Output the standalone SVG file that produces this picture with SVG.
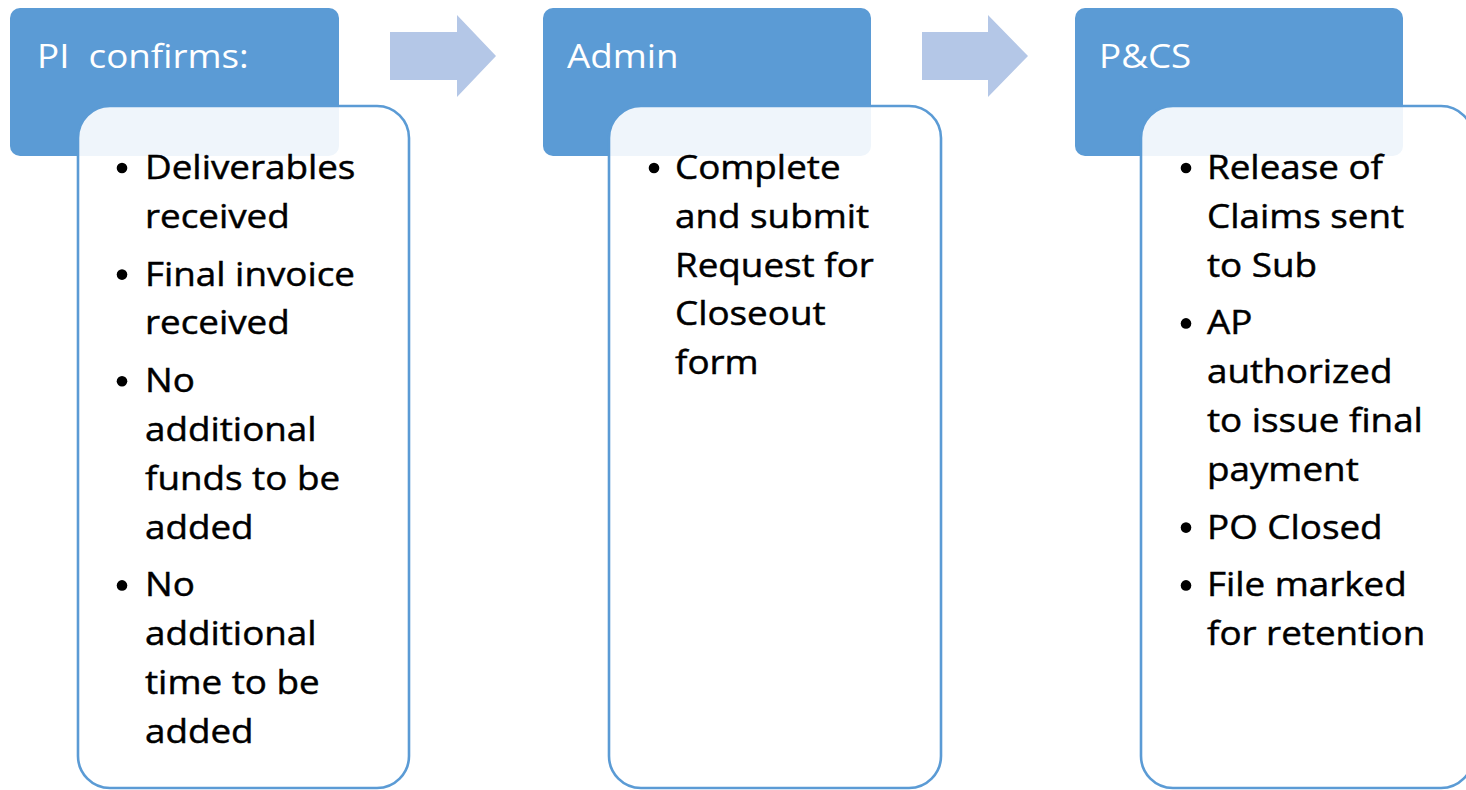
<svg xmlns="http://www.w3.org/2000/svg" width="1466" height="790" viewBox="0 0 1466 790">
<style>
.hdr{fill:#5B9BD5}
.card{fill:#FFFFFF;fill-opacity:0.9;stroke:#5B9BD5;stroke-width:2.6}
.arrow{fill:#B4C7E7}
.ht{font-family:"Open Sans","Noto Sans",sans-serif;font-size:32px;fill:#FFFFFF}
.bt{font-family:"Open Sans","Noto Sans",sans-serif;font-size:32px;fill:#000000;stroke:#000000;stroke-width:0.45}
.dot{fill:#000000}
</style>
<rect width="1466" height="790" fill="#FFFFFF"/>
<g id="connectors">
<polygon class="arrow" points="390,32 457,32 457,15 496,56 457,97 457,80 390,80"/>
<polygon class="arrow" points="922,32 988,32 988,15 1028,56 988,97 988,80 922,80"/>
</g>
<g id="node-pi">
<rect class="hdr" x="10" y="8" width="329" height="148" rx="10"/>
<g transform="translate(37,68) scale(1.15,1)"><text class="ht" x="0" y="0" xml:space="preserve">PI  confirms:</text></g>
<rect class="card" x="78" y="106" width="331" height="682" rx="32"/>
<circle class="dot" cx="122" cy="168" r="5.3"/>
<circle class="dot" cx="122" cy="274.6" r="5.3"/>
<circle class="dot" cx="122" cy="381.2" r="5.3"/>
<circle class="dot" cx="122" cy="585.4" r="5.3"/>
<g transform="translate(145,0) scale(1.15,1)">
<text class="bt" x="0" y="179">Deliverables</text>
<text class="bt" x="0" y="227.8">received</text>
<text class="bt" x="0" y="285.6">Final invoice</text>
<text class="bt" x="0" y="334.4">received</text>
<text class="bt" x="0" y="392.2">No</text>
<text class="bt" x="0" y="441">additional</text>
<text class="bt" x="0" y="489.8">funds to be</text>
<text class="bt" x="0" y="538.6">added</text>
<text class="bt" x="0" y="596.4">No</text>
<text class="bt" x="0" y="645.2">additional</text>
<text class="bt" x="0" y="694">time to be</text>
<text class="bt" x="0" y="742.8">added</text>
</g>
</g>
<g id="node-admin">
<rect class="hdr" x="543" y="8" width="328" height="148" rx="10"/>
<g transform="translate(567,68) scale(1.15,1)"><text class="ht" x="0" y="0">Admin</text></g>
<rect class="card" x="609" y="106" width="332" height="682" rx="32"/>
<circle class="dot" cx="654" cy="168" r="5.3"/>
<g transform="translate(675,0) scale(1.15,1)">
<text class="bt" x="0" y="179">Complete</text>
<text class="bt" x="0" y="227.8">and submit</text>
<text class="bt" x="0" y="276.6">Request for</text>
<text class="bt" x="0" y="325.4">Closeout</text>
<text class="bt" x="0" y="374.2">form</text>
</g>
</g>
<g id="node-pcs">
<rect class="hdr" x="1075" y="8" width="328" height="148" rx="10"/>
<g transform="translate(1099,68) scale(1.15,1)"><text class="ht" x="0" y="0">P&amp;CS</text></g>
<rect class="card" x="1141" y="106" width="332" height="682" rx="32"/>
<circle class="dot" cx="1186" cy="168" r="5.3"/>
<circle class="dot" cx="1186" cy="323.4" r="5.3"/>
<circle class="dot" cx="1186" cy="527.6" r="5.3"/>
<circle class="dot" cx="1186" cy="585.4" r="5.3"/>
<g transform="translate(1207,0) scale(1.15,1)">
<text class="bt" x="0" y="179">Release of</text>
<text class="bt" x="0" y="227.8">Claims sent</text>
<text class="bt" x="0" y="276.6">to Sub</text>
<text class="bt" x="0" y="334.4">AP</text>
<text class="bt" x="0" y="383.2">authorized</text>
<text class="bt" x="0" y="432">to issue final</text>
<text class="bt" x="0" y="480.8">payment</text>
<text class="bt" x="0" y="538.6">PO Closed</text>
<text class="bt" x="0" y="596.4">File marked</text>
<text class="bt" x="0" y="645.2">for retention</text>
</g>
</g>
</svg>
